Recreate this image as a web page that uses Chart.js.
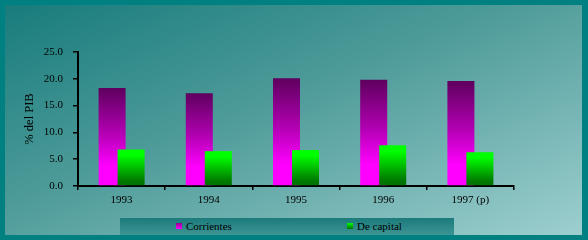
<!DOCTYPE html>
<html>
<head>
<meta charset="utf-8">
<script src="https://cdn.jsdelivr.net/npm/chart.js@4/dist/chart.umd.min.js"></script>
<style>
  html, body { margin:0; padding:0; }
  body { width:588px; height:240px; background:#008080; position:relative; overflow:hidden; font-family:"Liberation Serif", "DejaVu Serif", serif; }
  #bg { position:absolute; left:5px; top:5px; width:577px; height:230px;
        background: linear-gradient(to bottom right, #187c7c 0%, #4f9c9a 45%, #9dcfcf 100%); }
  #wrap { position:absolute; left:0; top:0; width:588px; height:240px; }
  #legend { position:absolute; left:120px; top:218px; width:334px; height:17px;
            background: linear-gradient(to bottom, #1d7b7b 0%, #2f8a8a 60%, #3f9595 100%);
            font-size:11px; color:#000; }
  .item { position:absolute; top:1px; white-space:nowrap; line-height:15px; }
  .sw { display:inline-block; width:6px; height:6px; margin-right:4px; vertical-align:1px; }
</style>
</head>
<body>
<div id="bg"></div>
<div id="wrap"><canvas id="c" width="588" height="240"></canvas></div>
<div id="legend">
  <span class="item" style="left:56px"><span class="sw" style="background:linear-gradient(#900090,#ff00ff)"></span><span id="l0"></span></span>
  <span class="item" style="left:227px"><span class="sw" style="background:linear-gradient(#00ff00,#007000)"></span><span id="l1"></span></span>
</div>
<script>
const categories = ["1993", "1994", "1995", "1996", "1997 (p)"];
const seriesNames = ["Corrientes", "De capital"];
const corrientes = [18.3, 17.3, 20.1, 19.8, 19.6];
const deCapital = [6.8, 6.5, 6.7, 7.6, 6.3];
const yTicks = [0, 5, 10, 15, 20, 25];
const yTitle = "% del PIB";

document.getElementById("l0").textContent = seriesNames[0];
document.getElementById("l1").textContent = seriesNames[1];

function barGradient(stops) {
  return function(ctx) {
    const chart = ctx.chart;
    const y = chart.scales.y;
    if (!y || ctx.parsed === undefined || ctx.parsed === null) return stops[0][1];
    const top = y.getPixelForValue(ctx.parsed.y);
    const bot = y.getPixelForValue(0);
    if (!isFinite(top) || !isFinite(bot) || top === bot) return stops[0][1];
    const g = chart.ctx.createLinearGradient(0, top, 0, bot);
    stops.forEach(s => g.addColorStop(s[0], s[1]));
    return g;
  };
}

// draw datasets in index order (first dataset underneath)
const forwardDraw = {
  id: "forwardDraw",
  beforeDatasetsDraw(chart) {
    const area = chart.chartArea;
    const ctx = chart.ctx;
    for (let i = 0; i < chart.data.datasets.length; i++) {
      const meta = chart.getDatasetMeta(i);
      if (!meta.visible) continue;
      ctx.save();
      ctx.beginPath();
      ctx.rect(area.left, area.top - 2, area.right - area.left, area.bottom - area.top + 2);
      ctx.clip();
      meta.controller.draw();
      ctx.restore();
    }
    return false;
  }
};

const font = { family: "'Liberation Serif', 'DejaVu Serif', serif", size: 11 };

new Chart(document.getElementById("c"), {
  type: "bar",
  data: {
    labels: categories,
    datasets: [
      { label: seriesNames[0], data: corrientes,
        backgroundColor: barGradient([[0, "#5e005e"], [0.45, "#b000b0"], [0.8, "#ff00ff"], [1, "#ff00ff"]]),
        categoryPercentage: 0.436, barPercentage: 1.42 },
      { label: seriesNames[1], data: deCapital,
        backgroundColor: barGradient([[0, "#00ff00"], [0.15, "#00ff00"], [0.85, "#007a00"], [1, "#007000"]]),
        categoryPercentage: 0.436, barPercentage: 1.42 }
    ]
  },
  plugins: [forwardDraw],
  options: {
    responsive: false,
    animation: false,
    layout: { padding: { left: 0, right: 74, top: 52, bottom: 0 } },
    plugins: { legend: { display: false }, tooltip: { enabled: false } },
    scales: {
      x: {
        grid: { display: true, drawOnChartArea: false, color: "#000", tickLength: 4, lineWidth: 1.5, offset: true },
        border: { display: true, color: "#000", width: 2 },
        ticks: { color: "#000", font: font, padding: 4, maxRotation: 0 },
        afterFit: s => { s.height = 54; }
      },
      y: {
        min: 0, max: 25,
        afterBuildTicks: s => { s.ticks = yTicks.map(v => ({ value: v })); },
        grid: { display: true, drawOnChartArea: false, color: "#000", tickLength: 5, lineWidth: 1.5 },
        border: { display: true, color: "#000", width: 2 },
        ticks: { color: "#000", font: font, padding: 10, callback: v => Number(v).toFixed(1) },
        title: { display: true, text: yTitle, color: "#000", font: { family: font.family, size: 12.5 }, padding: { top: 22, bottom: 0 } },
        afterFit: s => { s.width = 78; }
      }
    }
  }
});
</script>
</body>
</html>
